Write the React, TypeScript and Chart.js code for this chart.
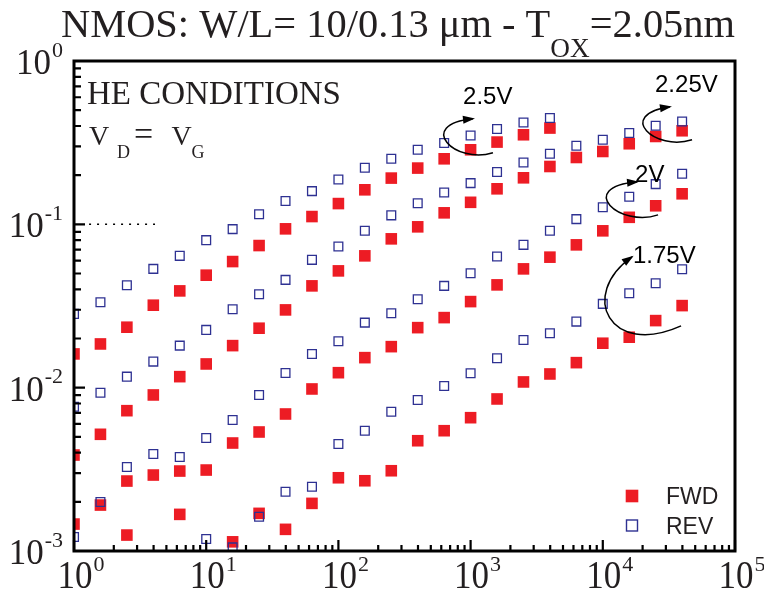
import React, { useEffect, useRef } from 'react';
import { Chart, registerables } from 'chart.js';

Chart.register(...registerables);

// Stress time (x) – same sampling for every series
const STRESS_TIME = [1, 1.585, 2.512, 3.981, 6.31, 10, 15.85, 25.12, 39.81, 63.1, 100, 158.5, 251.2, 398.1, 631, 1000, 1585, 2512, 3981, 6310, 10000, 15850, 25120, 39810];

// 2.5 V
const FWD_2_5V = [0.01609, 0.01852, 0.02345, 0.03198, 0.03913, 0.04883, 0.05917, 0.07415, 0.09385, 0.1116, 0.134, 0.1627, 0.1919, 0.221, 0.2519, 0.2861, 0.3189, 0.3535, 0.3886, null, null, null, null, null];
const REV_2_5V = [0.02829, 0.03336, 0.04242, 0.05337, 0.06413, 0.08002, 0.09346, 0.1152, 0.1388, 0.1597, 0.1881, 0.2219, 0.2519, 0.2861, 0.3145, 0.35, 0.3831, 0.4205, 0.4472, null, null, null, null, null];
// 2.25 V
const FWD_2_25V = [0.003869, 0.005182, 0.007229, 0.009023, 0.01168, 0.01397, 0.01809, 0.02312, 0.02993, 0.042, 0.05188, 0.06413, 0.0815, 0.09654, 0.1176, 0.1364, 0.165, 0.1927, 0.226, 0.2566, 0.2793, 0.3114, 0.3451, 0.374];
const REV_2_25V = [0.007648, 0.00932, 0.01168, 0.01444, 0.01809, 0.02258, 0.03023, 0.03735, 0.0457, 0.06061, 0.07311, 0.09125, 0.1135, 0.1345, 0.1566, 0.1788, 0.2089, 0.2391, 0.2704, 0.3027, 0.3294, 0.362, 0.4014, 0.4265];
// 2 V
const FWD_2V = [0.001462, 0.001911, 0.002681, 0.002918, 0.003087, 0.003131, 0.004583, 0.005353, 0.006899, 0.009818, 0.01235, 0.01527, 0.01783, 0.02331, 0.02685, 0.03365, 0.04259, 0.05337, 0.06295, 0.07488, 0.09125, 0.1104, 0.1299, 0.1538];
const REV_2V = [0.001217, 0.001993, 0.003267, 0.003925, 0.003762, 0.004918, 0.00634, 0.009023, 0.0123, 0.01609, 0.01924, 0.02502, 0.02857, 0.0348, 0.042, 0.05023, 0.06349, 0.07488, 0.09125, 0.1076, 0.1271, 0.1474, 0.1763, 0.2039];
// 1.75 V
const FWD_1_75V = [null, null, 0.001252, null, 0.001676, null, 0.001138, 0.0017, 0.001357, 0.001957, 0.002808, 0.002692, 0.0031, 0.004733, 0.005451, 0.006549, 0.008528, 0.01084, 0.01213, 0.01423, 0.01871, 0.02036, 0.02574, 0.0318];
const REV_1_75V = [null, null, null, null, null, 0.001183, 0.001052, 0.001621, 0.002305, 0.002474, 0.004519, 0.005451, 0.007126, 0.008408, 0.01024, 0.01225, 0.01514, 0.0196, 0.02154, 0.02538, 0.03258, 0.03788, 0.04362, 0.05315];

// Axes (log decades)
const X_DECADES = [0, 1, 2, 3, 4, 5];
const Y_DECADES = [-3, -2, -1, 0];

// Annotations, positions given in log10 data space: [log10(x), log10(y)]
const ARROW_LABELS = ['2.5V', '2.25V', '2V', '1.75V'];
const ARROW_TEXT_POS = [[2.943, -0.262], [4.395, -0.192], [4.244, -0.738], [4.228, -1.234]];
const ARROW_PATHS = [
  [[3.169, -0.562], [2.882, -0.635], [2.579, -0.39], [3.018, -0.354]],
  [[4.675, -0.482], [4.395, -0.556], [4.092, -0.329], [4.508, -0.28]],
  [[4.418, -0.942], [4.13, -1.021], [3.79, -0.776], [4.259, -0.74]],
  [[4.592, -1.622], [4.054, -1.818], [3.812, -1.432], [4.221, -1.199]],
];
const DOTTED_X = [1.3, 4.1];
const DOTTED_Y = 0.1;

const FWD_COLOR = '#ED1C24';
const REV_COLOR = '#2E3192';
const TEXT_COLOR = '#231F20';
const SERIF = '"Liberation Serif", "Times New Roman", serif';
const SANS = '"Liberation Sans", Arial, sans-serif';

const toPoints = (ys: (number | null)[]) =>
  STRESS_TIME.map((x, i) => ({ x, y: ys[i] })).filter((p) => p.y !== null) as { x: number; y: number }[];

const stretchText = (ctx: CanvasRenderingContext2D, text: string, x: number, y: number, sx: number, sy: number) => {
  ctx.save();
  ctx.translate(x, y);
  ctx.scale(sx, sy);
  ctx.fillText(text, 0, 0);
  ctx.restore();
};

const decorPlugin = {
  id: 'decor',
  afterDraw(chart: any) {
    const { ctx, chartArea: ca, scales } = chart;
    const xs = scales.x;
    const ys = scales.y;
    const P = (lx: number, ly: number) => [xs.getPixelForValue(Math.pow(10, lx)), ys.getPixelForValue(Math.pow(10, ly))];
    ctx.save();

    // dotted reference line
    ctx.strokeStyle = '#000';
    ctx.lineWidth = 1.5;
    ctx.setLineDash([2, 6]);
    ctx.beginPath();
    ctx.moveTo(xs.getPixelForValue(DOTTED_X[0]), ys.getPixelForValue(DOTTED_Y));
    ctx.lineTo(xs.getPixelForValue(DOTTED_X[1]), ys.getPixelForValue(DOTTED_Y));
    ctx.stroke();
    ctx.setLineDash([]);

    // ticks
    ctx.lineWidth = 2.2;
    ctx.beginPath();
    for (const d of X_DECADES) {
      for (let m = 1; m <= 9; m++) {
        if (d === X_DECADES[X_DECADES.length - 1] && m > 1) break;
        const px = xs.getPixelForValue(m * Math.pow(10, d));
        const len = m === 1 ? 11 : 6;
        ctx.moveTo(px, ca.bottom);
        ctx.lineTo(px, ca.bottom - len);
      }
    }
    for (const d of Y_DECADES) {
      for (let m = 1; m <= 9; m++) {
        if (d === Y_DECADES[Y_DECADES.length - 1] && m > 1) break;
        const py = ys.getPixelForValue(m * Math.pow(10, d));
        const len = m === 1 ? 11 : 7;
        ctx.moveTo(ca.left, py);
        ctx.lineTo(ca.left + len, py);
      }
    }
    ctx.stroke();

    // frame
    ctx.lineWidth = 3;
    ctx.strokeRect(ca.left, ca.top, ca.right - ca.left, ca.bottom - ca.top);

    // tick labels
    ctx.fillStyle = TEXT_COLOR;
    ctx.textBaseline = 'alphabetic';
    const mainF = `35px ${SERIF}`;
    const supF = `22px ${SERIF}`;
    for (const d of Y_DECADES) {
      const py = ys.getPixelForValue(Math.pow(10, d));
      const sup = String(d);
      ctx.font = supF;
      const sw = ctx.measureText(sup).width;
      ctx.textAlign = 'right';
      ctx.fillText(sup, ca.left - 11, py - 4.5);
      ctx.font = mainF;
      stretchText(ctx, '10', ca.left - 11 - sw - 1, py + 13, 1, 1.05);
    }
    for (const d of X_DECADES) {
      const px = xs.getPixelForValue(Math.pow(10, d));
      ctx.font = mainF;
      const w = ctx.measureText('10').width;
      ctx.textAlign = 'left';
      stretchText(ctx, '10', px + 1 - w / 2, ca.bottom + 37, 1, 1.12);
      ctx.font = supF;
      ctx.fillText(String(d), px + 1 + w / 2 + 1, ca.bottom + 20);
    }

    // title (fitted to the reference width)
    ctx.textAlign = 'left';
    ctx.fillStyle = TEXT_COLOR;
    const t1 = 'NMOS: W/L= 10/0.13 \u03BCm - T';
    const t2 = 'OX';
    const t3 = '=2.05nm';
    const bigF = `40px ${SERIF}`;
    const subF = `27px ${SERIF}`;
    ctx.font = bigF;
    const w1 = ctx.measureText(t1).width;
    const w3 = ctx.measureText(t3).width;
    ctx.font = subF;
    const w2 = ctx.measureText(t2).width;
    const sx = 674 / (w1 + w2 + w3);
    ctx.save();
    ctx.translate(61, 0);
    ctx.scale(sx, 1);
    ctx.font = bigF;
    ctx.fillText(t1, 0, 37);
    ctx.font = subF;
    ctx.fillText(t2, w1, 57);
    ctx.font = bigF;
    ctx.fillText(t3, w1 + w2, 37);
    ctx.restore();

    // in-plot texts
    ctx.font = `33px ${SERIF}`;
    ctx.fillText('HE CONDITIONS', ca.left + 13, ca.top + 43);
    ctx.font = `28px ${SERIF}`;
    ctx.fillText('V', ca.left + 15, ca.top + 84);
    ctx.fillText('V', ca.left + 97.5, ca.top + 84);
    ctx.font = `18px ${SERIF}`;
    ctx.fillText('D', ca.left + 43, ca.top + 97);
    ctx.fillText('G', ca.left + 117.5, ca.top + 97);
    ctx.font = `34px ${SERIF}`;
    ctx.fillText('=', ca.left + 60, ca.top + 84);

    // arrows + labels
    ctx.strokeStyle = '#000';
    ctx.fillStyle = '#000';
    ctx.lineWidth = 1.5;
    ARROW_PATHS.forEach((path, i) => {
      const [p0, c1, c2, p3] = path.map(([a, b]) => P(a, b));
      ctx.beginPath();
      ctx.moveTo(p0[0], p0[1]);
      ctx.bezierCurveTo(c1[0], c1[1], c2[0], c2[1], p3[0], p3[1]);
      ctx.stroke();
      const dx = p3[0] - c2[0];
      const dy = p3[1] - c2[1];
      const n = Math.hypot(dx, dy) || 1;
      const ux = dx / n, uy = dy / n;
      const L = 10, W = 4;
      ctx.beginPath();
      ctx.moveTo(p3[0] + ux * 2, p3[1] + uy * 2);
      ctx.lineTo(p3[0] - ux * L - uy * W, p3[1] - uy * L + ux * W);
      ctx.lineTo(p3[0] - ux * L + uy * W, p3[1] - uy * L - ux * W);
      ctx.closePath();
      ctx.fill();
      const [lx, ly] = P(ARROW_TEXT_POS[i][0], ARROW_TEXT_POS[i][1]);
      ctx.font = `24px ${SANS}`;
      ctx.textAlign = 'left';
      ctx.fillText(ARROW_LABELS[i], lx, ly);
    });

    // legend
    const lgx = ca.right - 103;
    const fy = ca.bottom - 55;
    const ry = ca.bottom - 25.5;
    ctx.fillStyle = FWD_COLOR;
    ctx.fillRect(lgx - 6.3, fy - 6.3, 12.6, 12.6);
    ctx.strokeStyle = REV_COLOR;
    ctx.lineWidth = 1.4;
    ctx.strokeRect(lgx - 5.5, ry - 5.5, 11, 11);
    ctx.fillStyle = TEXT_COLOR;
    ctx.font = `23px ${SANS}`;
    ctx.fillText('FWD', lgx + 34, fy + 8);
    ctx.fillText('REV', lgx + 34, ry + 8);

    ctx.restore();
  },
};

export default function App() {
  const ref = useRef<HTMLCanvasElement | null>(null);
  useEffect(() => {
    if (!ref.current) return;
    const rev = (data: any) => ({
      data,
      showLine: false,
      pointStyle: 'rect',
      pointRadius: 6.2,
      pointBorderWidth: 1.3,
      pointBorderColor: REV_COLOR,
      pointBackgroundColor: 'rgba(0,0,0,0)',
      borderColor: REV_COLOR,
      backgroundColor: 'rgba(0,0,0,0)',
      clip: 0,
    });
    const fwd = (data: any) => ({
      data,
      showLine: false,
      pointStyle: 'rect',
      pointRadius: 8.2,
      pointBorderWidth: 0,
      pointBorderColor: FWD_COLOR,
      pointBackgroundColor: FWD_COLOR,
      borderColor: FWD_COLOR,
      backgroundColor: FWD_COLOR,
      clip: 0,
    });
    const chart = new Chart(ref.current, {
      type: 'scatter',
      data: {
        datasets: [
          { label: 'REV 2.5V', ...rev(toPoints(REV_2_5V)) },
          { label: 'REV 2.25V', ...rev(toPoints(REV_2_25V)) },
          { label: 'REV 2V', ...rev(toPoints(REV_2V)) },
          { label: 'REV 1.75V', ...rev(toPoints(REV_1_75V)) },
          { label: 'FWD 2.5V', ...fwd(toPoints(FWD_2_5V)) },
          { label: 'FWD 2.25V', ...fwd(toPoints(FWD_2_25V)) },
          { label: 'FWD 2V', ...fwd(toPoints(FWD_2V)) },
          { label: 'FWD 1.75V', ...fwd(toPoints(FWD_1_75V)) },
        ] as any,
      },
      options: {
        responsive: false,
        animation: false,
        events: [],
        layout: { padding: { left: 74, top: 61, right: 29, bottom: 43 } },
        scales: {
          x: { type: 'logarithmic', min: 1, max: 100000, display: false },
          y: { type: 'logarithmic', min: 0.001, max: 1, display: false },
        },
        plugins: {
          legend: { display: false },
          tooltip: { enabled: false },
          title: { display: false },
        },
      } as any,
      plugins: [decorPlugin],
    });
    return () => chart.destroy();
  }, []);
  return (
    <div style={{ position: 'fixed', left: 0, top: 0, width: 764, height: 594, background: '#fff' }}>
      <canvas ref={ref} width={764} height={594} style={{ display: 'block', width: 764, height: 594 }} />
    </div>
  );
}
